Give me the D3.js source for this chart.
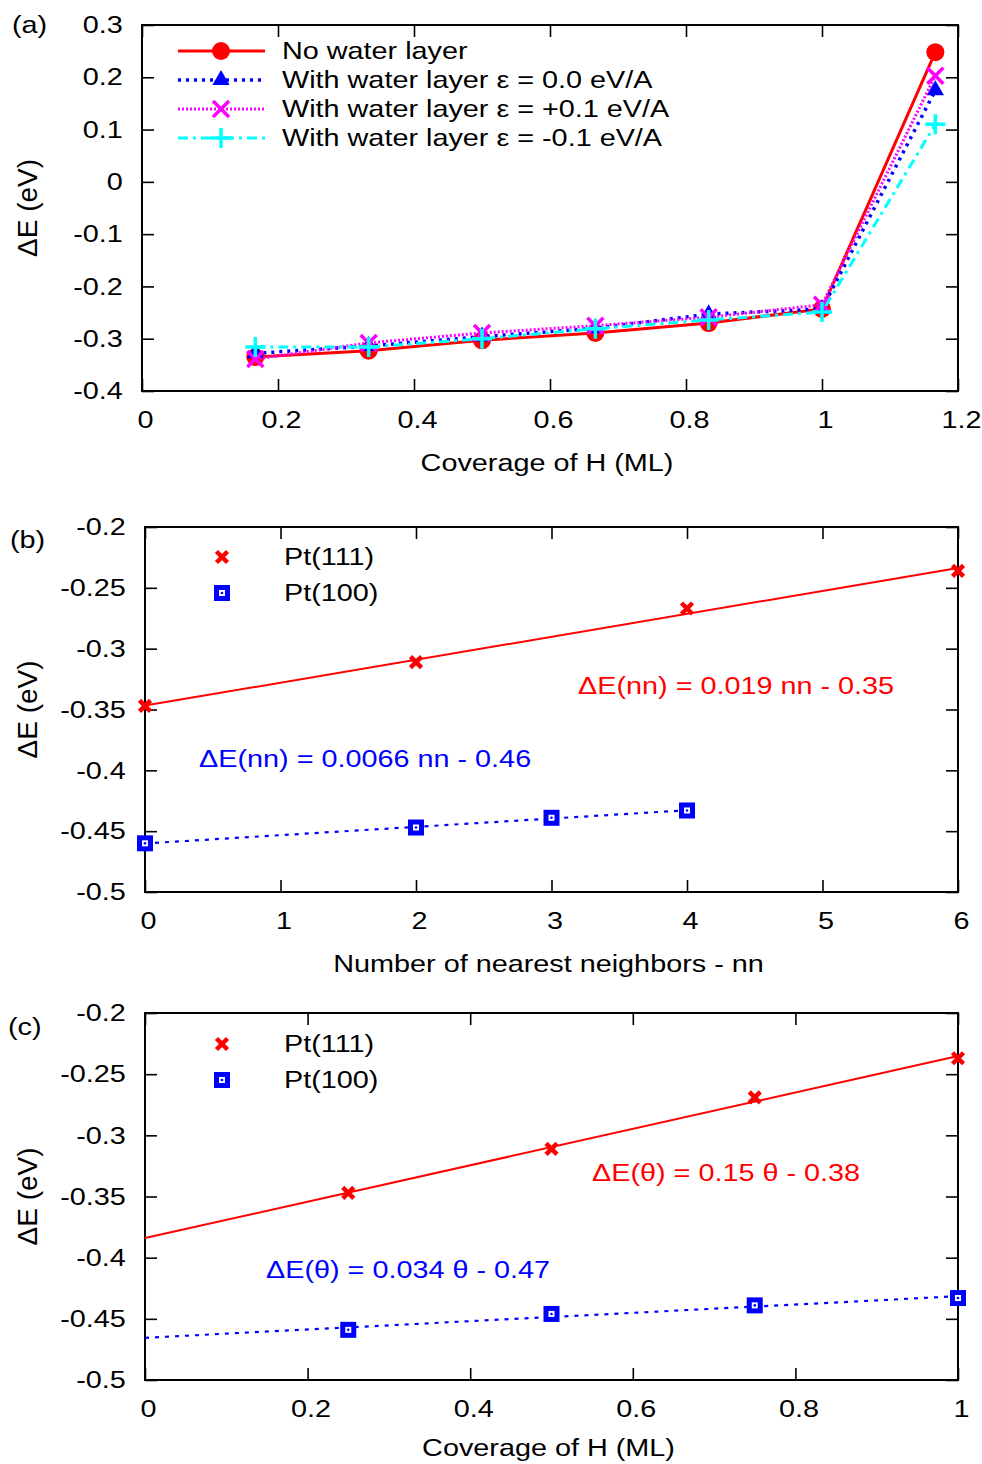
<!DOCTYPE html>
<html>
<head>
<meta charset="utf-8">
<script src="https://cdn.jsdelivr.net/npm/d3@7"></script>
<style>
  body { margin: 0; background: #fff; }
  text { font-family: "Liberation Sans", Arial, Helvetica, sans-serif; }
</style>
</head>
<body>
<script>
// ---- data: panel (a), energy vs coverage (sixths of a monolayer)
const covA = [1/6, 2/6, 3/6, 4/6, 5/6, 1, 7/6];
const noWater = [-0.335, -0.323, -0.303, -0.289, -0.270, -0.243, 0.248];
const water00 = [-0.328, -0.314, -0.296, -0.280, -0.253, -0.243, 0.175];
const waterPlus = [-0.339, -0.308, -0.289, -0.275, -0.259, -0.235, 0.203];
const waterMinus = [-0.316, -0.316, -0.300, -0.281, -0.264, -0.249, 0.110];
const seriesNamesA = ['No water layer', 'With water layer \u03b5 = 0.0 eV/A',
                      'With water layer \u03b5 = +0.1 eV/A', 'With water layer \u03b5 = -0.1 eV/A'];

// ---- data: panel (b), energy vs number of nearest neighbours
const nn111 = [0, 2, 4, 6];
const e111nn = [-0.347, -0.311, -0.267, -0.236];
const nn100 = [0, 2, 3, 4];
const e100nn = [-0.460, -0.447, -0.439, -0.433];

// ---- data: panel (c), energy vs coverage
const th111 = [0.25, 0.5, 0.75, 1.0];
const e111th = [-0.347, -0.311, -0.269, -0.237];
const th100 = [0.25, 0.5, 0.75, 1.0];
const e100th = [-0.459, -0.446, -0.439, -0.433];

// ---- tick values / labels
const xTicksA = [0, 0.2, 0.4, 0.6, 0.8, 1, 1.2];
const xLabelsA = ['0', '0.2', '0.4', '0.6', '0.8', '1', '1.2'];
const yTicksA = [-0.4, -0.3, -0.2, -0.1, 0, 0.1, 0.2, 0.3];
const yLabelsA = ['-0.4', '-0.3', '-0.2', '-0.1', '0', '0.1', '0.2', '0.3'];
const xTicksB = [0, 1, 2, 3, 4, 5, 6];
const xLabelsB = ['0', '1', '2', '3', '4', '5', '6'];
const yTicksBC = [-0.5, -0.45, -0.4, -0.35, -0.3, -0.25, -0.2];
const yLabelsBC = ['-0.5', '-0.45', '-0.4', '-0.35', '-0.3', '-0.25', '-0.2'];
const xTicksC = [0, 0.2, 0.4, 0.6, 0.8, 1];
const xLabelsC = ['0', '0.2', '0.4', '0.6', '0.8', '1'];

const RED = '#ff0000', BLUE = '#0000ff', MAG = '#ff00ff', CYAN = '#00ffff';
const SX = 1.2; // text in the picture is stretched sideways

var svg = d3.select('body').append('svg')
    .attr('width', 982)
    .attr('height', 1464);

// text helper
function label(x, y, str, opt) {
    opt = opt || {};
    return svg.append('text')
        .attr('transform', 'translate(' + x + ',' + y + ') scale(' + SX + ',1)')
        .attr('dy', '0.35em')
        .attr('font-size', opt.size || 24)
        .attr('text-anchor', opt.anchor || 'start')
        .attr('fill', opt.color || '#000')
        .text(str);
}

// least squares line
function linfit(xs, ys) {
    var mx = d3.mean(xs), my = d3.mean(ys);
    var sxy = d3.sum(xs, (d, i) => (d - mx) * (ys[i] - my));
    var sxx = d3.sum(xs, d => (d - mx) * (d - mx));
    var a = sxy / sxx;
    return [a, my - a * mx];
}

// axes box with inward ticks on all four sides
function panel(box, xDom, yDom, xT, xL, yT, yL, xTitle, tag) {
    var w = box.r - box.l, h = box.b - box.t;
    var g = svg.append('g').attr('transform', 'translate(' + box.l + ',' + box.t + ')');
    var x = d3.scaleLinear().domain(xDom).range([0, w]);
    var y = d3.scaleLinear().domain(yDom).range([h, 0]);

    var bottom = g.append('g').attr('transform', 'translate(0,' + h + ')')
        .call(d3.axisBottom(x).tickValues(xT).tickFormat((d, i) => xL[i]).tickSize(-12).tickSizeOuter(0).tickPadding(20));
    var left = g.append('g')
        .call(d3.axisLeft(y).tickValues(yT).tickFormat((d, i) => yL[i]).tickSize(-12).tickSizeOuter(0).tickPadding(16));
    g.append('g')
        .call(d3.axisTop(x).tickValues(xT).tickFormat('').tickSize(-12).tickSizeOuter(0));
    g.append('g').attr('transform', 'translate(' + w + ',0)')
        .call(d3.axisRight(y).tickValues(yT).tickFormat('').tickSize(-12).tickSizeOuter(0));

    g.selectAll('.domain').remove();
    g.selectAll('.tick line').attr('stroke', '#000').attr('stroke-width', 1.6);
    [bottom, left].forEach(a => a.selectAll('text')
        .attr('font-size', 24)
        .attr('font-family', '"Liberation Sans", Arial, Helvetica, sans-serif')
        .attr('fill', '#000'));
    bottom.selectAll('text').attr('transform', 'translate(3,0) scale(' + SX + ',1)');
    left.selectAll('text').attr('transform', 'scale(' + SX + ',1)');

    g.append('rect')
        .attr('width', w).attr('height', h)
        .attr('fill', 'none').attr('stroke', '#000').attr('stroke-width', 2);

    label((box.l + box.r) / 2 - 3, Math.min(box.b + 72, 1448), xTitle, {anchor: 'middle'});
    svg.append('text')
        .attr('transform', 'translate(27,' + ((box.t + box.b) / 2) + ') rotate(-90)')
        .attr('dy', '0.35em')
        .attr('font-size', 28)
        .attr('text-anchor', 'middle')
        .text('\u0394E (eV)');
    label(tag.x, tag.y, tag.s);

    return {g: g, x: x, y: y};
}

// marker painters (g = group, cx, cy in pixels)
function mCircle(g, cx, cy, c) {
    g.append('circle').attr('cx', cx).attr('cy', cy).attr('r', 9).attr('fill', c);
}
function mTriangle(g, cx, cy, c) {
    g.append('path').attr('d', d3.symbol(d3.symbolTriangle, 130)())
        .attr('transform', 'translate(' + cx + ',' + cy + ')').attr('fill', c);
}
function mTimes(g, cx, cy, c, s, sw) {
    g.append('path').attr('d', 'M' + (-s) + ',' + (-s) + 'L' + s + ',' + s + 'M' + (-s) + ',' + s + 'L' + s + ',' + (-s))
        .attr('transform', 'translate(' + cx + ',' + cy + ')')
        .attr('stroke', c).attr('stroke-width', sw).attr('fill', 'none');
}
function mPlus(g, cx, cy, c) {
    var s = 10;
    g.append('path').attr('d', 'M' + (-s) + ',0L' + s + ',0M0,' + (-s) + 'L0,' + s)
        .attr('transform', 'translate(' + cx + ',' + cy + ')')
        .attr('stroke', c).attr('stroke-width', 3.5).attr('fill', 'none');
}
function mBox(g, cx, cy) {
    g.append('rect').attr('x', cx - 8).attr('y', cy - 8).attr('width', 16).attr('height', 16).attr('fill', BLUE);
    g.append('rect').attr('x', cx - 3).attr('y', cy - 3).attr('width', 6).attr('height', 6).attr('fill', '#fff');
    g.append('circle').attr('cx', cx).attr('cy', cy).attr('r', 1.3).attr('fill', BLUE);
}

// ================= panel (a)
var pa = panel({l: 142, r: 958, t: 25, b: 391}, [0, 1.2], [-0.4, 0.3],
    xTicksA, xLabelsA, yTicksA, yLabelsA, 'Coverage of H (ML)', {x: 12, y: 25, s: '(a)'});

var stylesA = [
    {ys: noWater, color: RED, dash: null, width: 3, mark: mCircle},
    {ys: water00, color: BLUE, dash: '3,5', width: 3.5, mark: mTriangle},
    {ys: waterPlus, color: MAG, dash: '2,2', width: 3, mark: (g, cx, cy, c) => mTimes(g, cx, cy, c, 8, 3.5)},
    {ys: waterMinus, color: CYAN, dash: '10,5,3,5', width: 3, mark: mPlus}
];

var lineA = d3.line()
    .x((d, i) => pa.x(covA[i]))
    .y(d => pa.y(d));

stylesA.forEach(function(s, k) {
    pa.g.append('path')
        .datum(s.ys)
        .attr('fill', 'none')
        .attr('stroke', s.color)
        .attr('stroke-width', s.width)
        .attr('stroke-dasharray', s.dash)
        .attr('d', lineA);
    s.ys.forEach((v, i) => s.mark(pa.g, pa.x(covA[i]), pa.y(v), s.color));

    // legend
    var ly = 51 + k * 29;
    svg.append('line').attr('x1', 178).attr('x2', 265).attr('y1', ly).attr('y2', ly)
        .attr('stroke', s.color).attr('stroke-width', s.width).attr('stroke-dasharray', s.dash);
    s.mark(svg, 221, ly, s.color);
    label(282, ly, seriesNamesA[k]);
});

// ================= panels (b) and (c)
function fitPanel(p, xs1, ys1, r1, xs2, ys2, r2) {
    var f1 = linfit(xs1, ys1), f2 = linfit(xs2, ys2);
    var fitLine = f => d3.line().x(d => p.x(d)).y(d => p.y(f[0] * d + f[1]));
    p.g.append('path').datum(r1).attr('fill', 'none').attr('stroke', RED)
        .attr('stroke-width', 2).attr('d', fitLine(f1));
    p.g.append('path').datum(r2).attr('fill', 'none').attr('stroke', BLUE)
        .attr('stroke-width', 2.2).attr('stroke-dasharray', '4,6').attr('d', fitLine(f2));
    xs1.forEach((d, i) => mTimes(p.g, p.x(d), p.y(ys1[i]), RED, 5.5, 4.5));
    xs2.forEach((d, i) => mBox(p.g, p.x(d), p.y(ys2[i])));
}

var pb = panel({l: 145, r: 958, t: 527, b: 892}, [0, 6], [-0.5, -0.2],
    xTicksB, xLabelsB, yTicksBC, yLabelsBC, 'Number of nearest neighbors - nn', {x: 10, y: 540, s: '(b)'});
fitPanel(pb, nn111, e111nn, [0, 6], nn100, e100nn, [0, 4]);
mTimes(svg, 222, 557, RED, 5.5, 4.5);
label(284, 557, 'Pt(111)');
mBox(svg, 222, 593);
label(284, 593, 'Pt(100)');
label(578, 686, '\u0394E(nn) = 0.019 nn - 0.35', {color: RED});
label(199, 759, '\u0394E(nn) = 0.0066 nn - 0.46', {color: BLUE});

var pc = panel({l: 145, r: 958, t: 1013, b: 1380}, [0, 1], [-0.5, -0.2],
    xTicksC, xLabelsC, yTicksBC, yLabelsBC, 'Coverage of H (ML)', {x: 8, y: 1027, s: '(c)'});
fitPanel(pc, th111, e111th, [0, 1], th100, e100th, [0, 1]);
mTimes(svg, 222, 1044, RED, 5.5, 4.5);
label(284, 1044, 'Pt(111)');
mBox(svg, 222, 1080);
label(284, 1080, 'Pt(100)');
label(592, 1173, '\u0394E(\u03b8) = 0.15 \u03b8 - 0.38', {color: RED});
label(266, 1270, '\u0394E(\u03b8) = 0.034 \u03b8 - 0.47', {color: BLUE});
</script>
</body>
</html>
